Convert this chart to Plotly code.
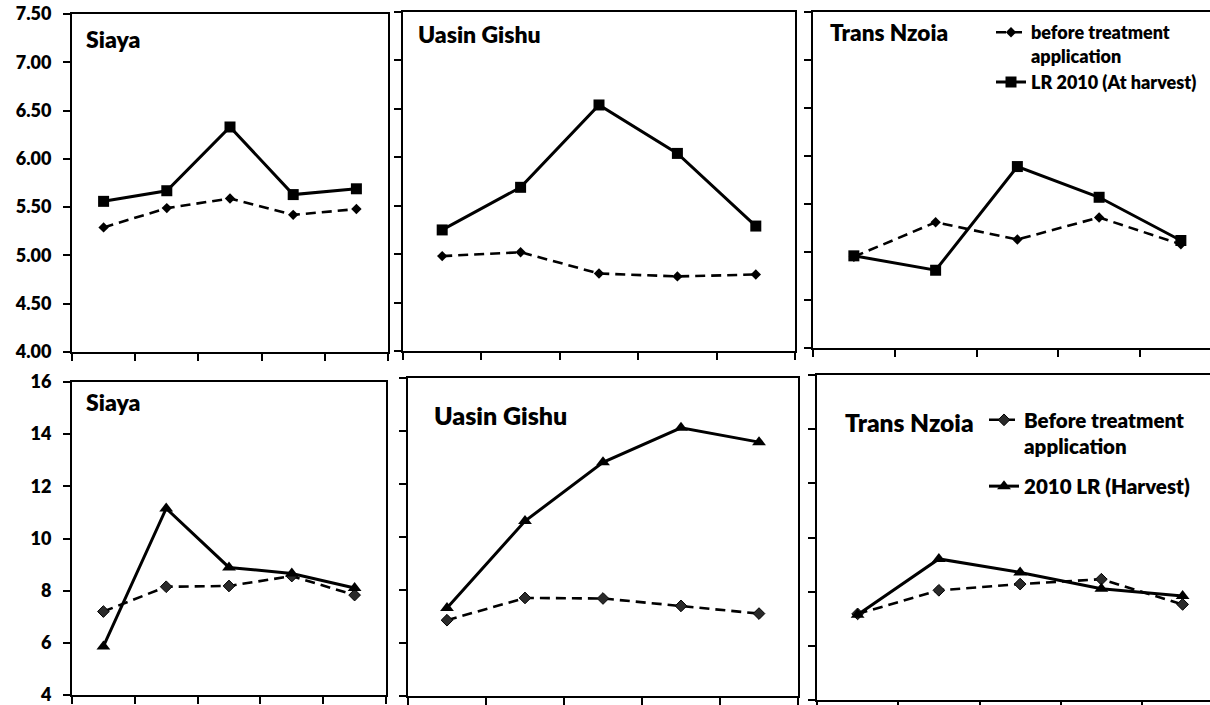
import plotly.graph_objects as go

# ---------------- data ----------------
treatments = [1, 2, 3, 4, 5]
districts = ["Siaya", "Uasin Gishu", "Trans Nzoia"]

# top row (pH-like scale 4.00 - 7.50)
siaya_top_before = [5.29, 5.49, 5.59, 5.42, 5.48]
siaya_top_harvest = [5.56, 5.67, 6.33, 5.63, 5.69]
uasin_top_before = [4.98, 5.02, 4.80, 4.77, 4.79]
uasin_top_harvest = [5.25, 5.69, 6.54, 6.04, 5.29]
trans_top_before = [4.95, 5.31, 5.13, 5.36, 5.08]
trans_top_harvest = [4.96, 4.81, 5.89, 5.57, 5.12]

# bottom row (scale 4 - 16)
siaya_bot_before = [7.20, 8.15, 8.18, 8.56, 7.83]
siaya_bot_harvest = [5.86, 11.15, 8.89, 8.66, 8.10]
uasin_bot_before = [6.86, 7.70, 7.68, 7.40, 7.11]
uasin_bot_harvest = [7.32, 10.60, 12.82, 14.12, 13.58]
trans_bot_before = [7.18, 8.05, 8.28, 8.46, 7.53]
trans_bot_harvest = [7.15, 9.21, 8.71, 8.11, 7.84]

top_names = ["before treatment<br>application", "LR 2010 (At harvest)"]
bot_names = ["Before treatment<br>application", "2010 LR (Harvest)"]

top_ticks = [4.0, 4.5, 5.0, 5.5, 6.0, 6.5, 7.0, 7.5]
bot_ticks = [4, 6, 8, 10, 12, 14, 16]

# ---------------- layout helpers ----------------
W, H = 1210, 705
FONT = "Lato"
WEIGHT = 800


def fx(px):
    return px / W


def fy(px):
    return 1 - px / H


fig = go.Figure()

panels = [
    # (district, before, harvest, row, x0, x1, ytop, ybot, catw, labels, title pos, title size)
    (0, siaya_top_before, siaya_top_harvest, "top", 72, 388, 14, 352, None, True, (84, 39), 23),
    (1, uasin_top_before, uasin_top_harvest, "top", 403, 795, 12, 351, None, False, (416, 34), 23),
    (2, trans_top_before, trans_top_harvest, "top", 813, W, 12, 348, 81.75, False, (828, 33), 22.5),
    (0, siaya_bot_before, siaya_bot_harvest, "bot", 72, 386, 382, 695, None, True, (84, 402), 23),
    (1, uasin_bot_before, uasin_bot_harvest, "bot", 408, 798, 378, 696, None, False, (432, 415), 25),
    (2, trans_bot_before, trans_bot_harvest, "bot", 817, W, 375, 700, 81.25, False, (843, 422), 24.5),
]

annotations = []
for i, (d, before, harvest, row, x0, x1, yt, yb, catw, labels, tpos, tsize) in enumerate(panels):
    k = i + 1
    xa = "x" if k == 1 else f"x{k}"
    ya = "y" if k == 1 else f"y{k}"
    xkey = "xaxis" if k == 1 else f"xaxis{k}"
    ykey = "yaxis" if k == 1 else f"yaxis{k}"
    clipped = catw is not None
    xend = 0.5 + (x1 - x0) / catw if clipped else 5.5
    top = row == "top"
    legend_id = "legend" if top else "legend2"
    names = top_names if top else bot_names
    show = d == 2

    if top:
        bmark = dict(symbol="diamond", size=8, color="black")
        hmark = dict(symbol="square", size=11, color="black")
    else:
        bmark = dict(symbol="diamond", size=9, color="#2a2a2a", line=dict(color="#000", width=1))
        hmark = dict(symbol="triangle-up", size=12, color="black")

    fig.add_trace(go.Scatter(
        x=treatments, y=before, xaxis=xa, yaxis=ya, mode="lines+markers",
        name=names[0], legend=legend_id, showlegend=show, legendgroup=f"{row}_before",
        line=dict(color="black", width=2.6, dash="10px,6px"), marker=bmark,
    ))
    fig.add_trace(go.Scatter(
        x=treatments, y=harvest, xaxis=xa, yaxis=ya, mode="lines+markers",
        name=names[1], legend=legend_id, showlegend=show, legendgroup=f"{row}_harvest",
        line=dict(color="black", width=3), marker=hmark,
    ))

    fig.layout[xkey] = dict(
        domain=[fx(x0), min(1.0, fx(x1))], range=[0.5, xend], anchor=ya,
        showgrid=False, zeroline=False, showline=True, linecolor="black", linewidth=2,
        mirror=True, ticks="outside", ticklen=7, tickwidth=1.5, tickcolor="black",
        tickvals=[0.5, 1.5, 2.5, 3.5, 4.5, 5.5], showticklabels=False,
    )
    fig.layout[ykey] = dict(
        domain=[fy(yb), fy(yt)], range=[4, 7.5] if top else [4, 16], anchor=xa,
        showgrid=False, zeroline=False, showline=True, linecolor="black", linewidth=2,
        mirror=not clipped, ticks="outside", ticklen=7, tickwidth=1.5, tickcolor="black",
        tickvals=top_ticks if top else bot_ticks,
        tickformat=".2f" if top else "d",
        showticklabels=labels, ticklabelstandoff=8, ticklabeloverflow="allow",
        tickfont=dict(family=FONT, size=18, color="black", weight=WEIGHT),
    )

    annotations.append(dict(
        text=districts[d], xref="paper", yref="paper", x=fx(tpos[0]), y=fy(tpos[1]),
        xanchor="left", yanchor="middle", showarrow=False,
        font=dict(family=FONT, size=tsize, color="black", weight=WEIGHT),
    ))

fig.update_layout(
    width=W, height=H, margin=dict(l=0, r=0, t=0, b=0, pad=0, autoexpand=False),
    paper_bgcolor="white", plot_bgcolor="white",
    annotations=annotations,
    legend=dict(
        x=fx(991), y=fy(14), xanchor="left", yanchor="top",
        font=dict(family=FONT, size=18, color="black", weight=WEIGHT),
        bgcolor="rgba(0,0,0,0)", itemwidth=30, valign="top",
        traceorder="grouped", tracegroupgap=0,
    ),
    legend2=dict(
        x=fx(984), y=fy(400), xanchor="left", yanchor="top",
        font=dict(family=FONT, size=20.5, color="black", weight=WEIGHT),
        bgcolor="rgba(0,0,0,0)", itemwidth=30, valign="top",
        traceorder="grouped", tracegroupgap=10,
    ),
)

# place the figure at the very top-left corner of the page (no default body margin)
fig.write_html(
    "out.html",
    config={"displayModeBar": False},
    post_script="document.body.style.margin='0px';",
)
